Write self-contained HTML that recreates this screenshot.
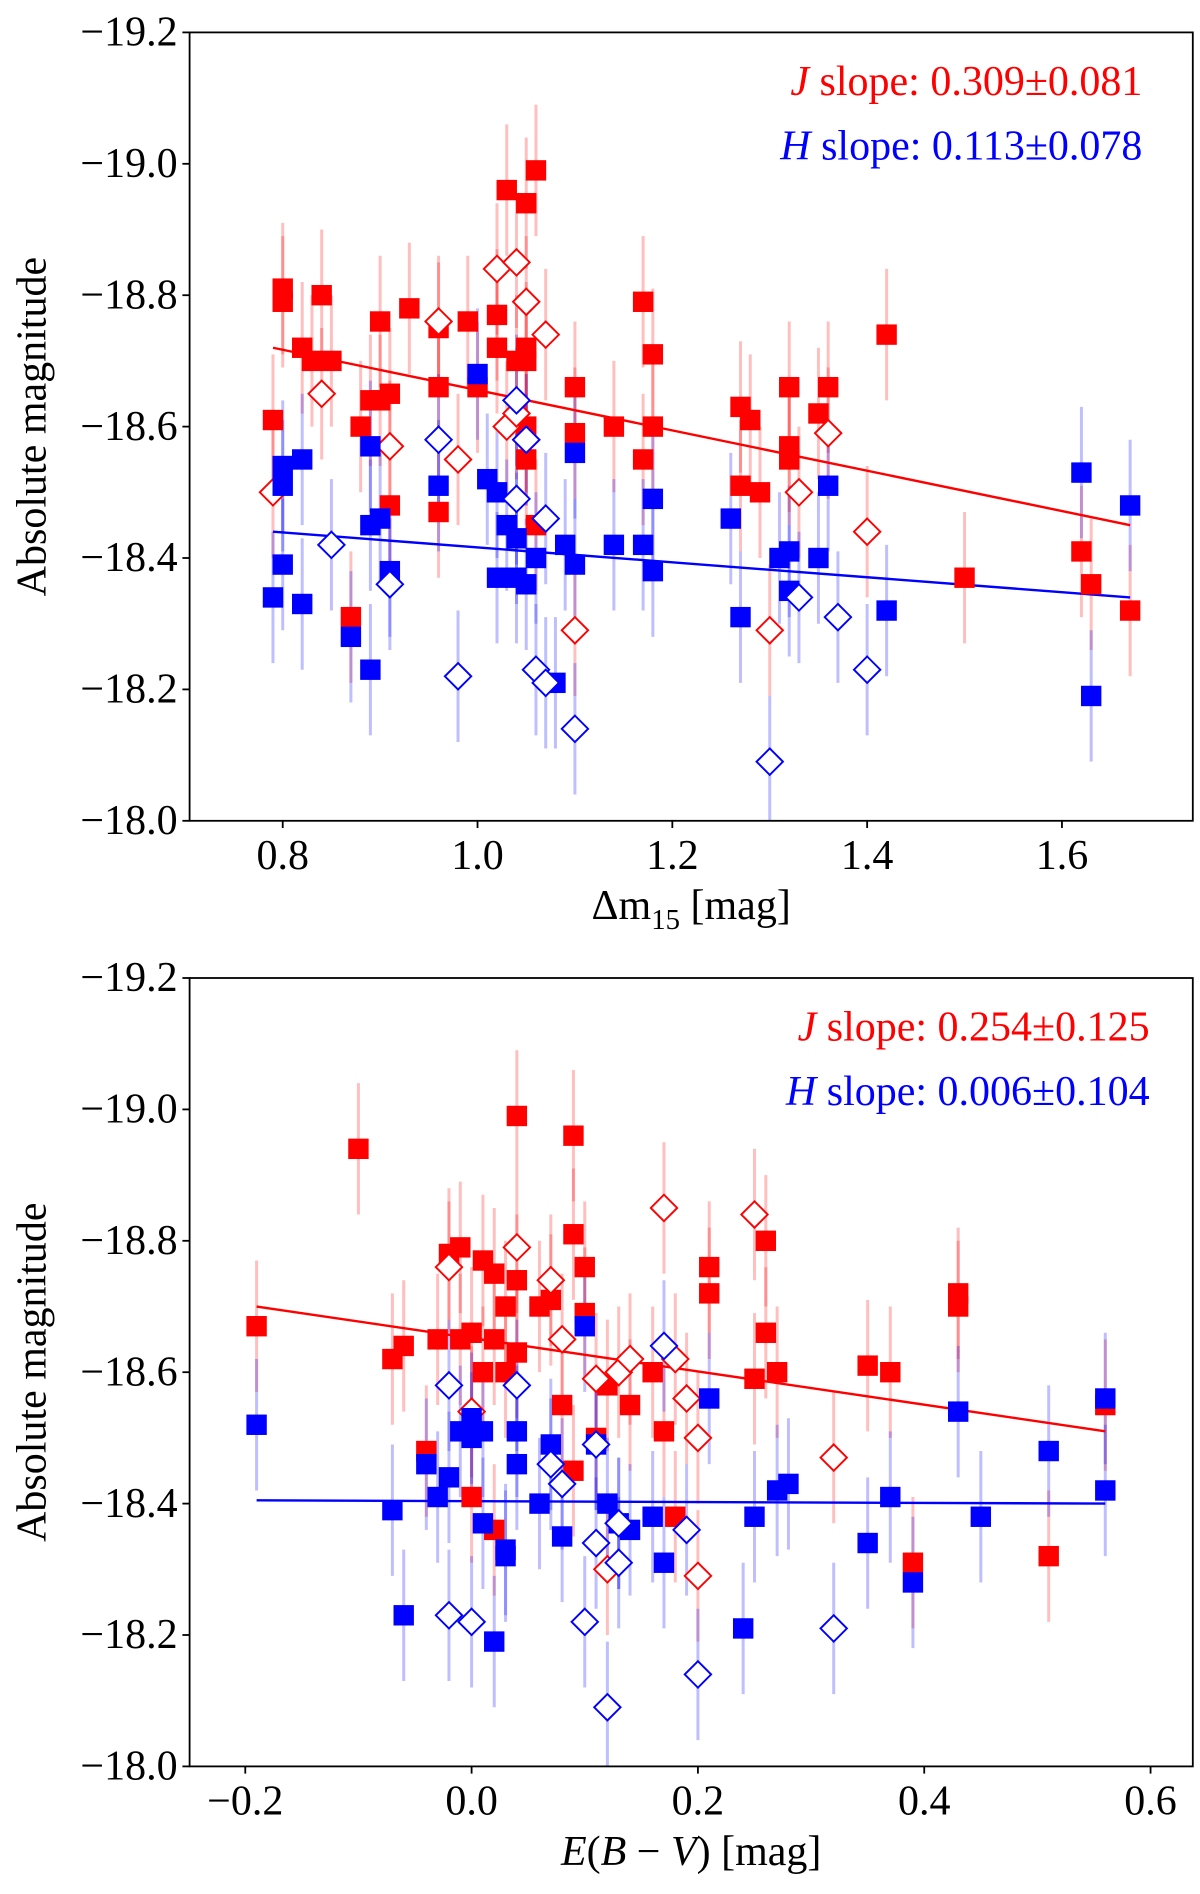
<!DOCTYPE html>
<html><head><meta charset="utf-8"><style>
html,body{margin:0;padding:0;background:#fff}
svg{display:block}
text{font-family:"Liberation Serif",serif}
</style></head><body>
<svg id="fig" width="1200" height="1894" viewBox="0 0 1000 1578.33" xmlns="http://www.w3.org/2000/svg"></svg>
<script>
// ---- Top panel data (Δm15) ----
const topJFilled = [[0.79,-18.61],[0.80,-18.81],[0.80,-18.79],[0.82,-18.72],[0.83,-18.70],[0.84,-18.80],[0.85,-18.70],[0.87,-18.31],[0.88,-18.60],[0.89,-18.64],[0.90,-18.76],[0.90,-18.64],[0.91,-18.65],[0.91,-18.48],[0.93,-18.78],[0.96,-18.75],[0.96,-18.66],[0.96,-18.47],[0.99,-18.76],[1.00,-18.66],[1.02,-18.77],[1.02,-18.72],[1.03,-18.96],[1.04,-18.70],[1.05,-18.94],[1.05,-18.60],[1.05,-18.55],[1.05,-18.70],[1.05,-18.72],[1.06,-18.99],[1.06,-18.45],[1.10,-18.66],[1.10,-18.59],[1.14,-18.60],[1.17,-18.79],[1.17,-18.55],[1.18,-18.60],[1.18,-18.71],[1.27,-18.63],[1.27,-18.51],[1.28,-18.61],[1.29,-18.50],[1.32,-18.57],[1.32,-18.66],[1.32,-18.55],[1.35,-18.62],[1.36,-18.66],[1.42,-18.74],[1.50,-18.37],[1.62,-18.41],[1.63,-18.36],[1.67,-18.32]];
const topJOpen = [[0.79,-18.50],[0.84,-18.65],[0.91,-18.57],[0.96,-18.76],[0.98,-18.55],[1.02,-18.84],[1.04,-18.85],[1.05,-18.79],[1.03,-18.60],[1.04,-18.62],[1.05,-18.58],[1.07,-18.74],[1.10,-18.29],[1.30,-18.29],[1.33,-18.50],[1.36,-18.59],[1.40,-18.44]];
const topHFilled = [[0.79,-18.34],[0.80,-18.39],[0.80,-18.54],[0.80,-18.51],[0.82,-18.55],[0.82,-18.33],[0.87,-18.28],[0.89,-18.23],[0.89,-18.57],[0.89,-18.45],[0.90,-18.46],[0.91,-18.38],[0.96,-18.51],[1.00,-18.68],[1.01,-18.52],[1.02,-18.37],[1.02,-18.50],[1.03,-18.45],[1.04,-18.43],[1.04,-18.37],[1.05,-18.36],[1.06,-18.40],[1.08,-18.21],[1.09,-18.42],[1.10,-18.56],[1.10,-18.39],[1.14,-18.42],[1.17,-18.42],[1.18,-18.38],[1.18,-18.49],[1.26,-18.46],[1.27,-18.31],[1.31,-18.40],[1.32,-18.35],[1.32,-18.41],[1.35,-18.40],[1.36,-18.51],[1.42,-18.32],[1.62,-18.53],[1.63,-18.19],[1.67,-18.48]];
const topHOpen = [[0.85,-18.42],[0.91,-18.36],[0.96,-18.58],[0.98,-18.22],[1.04,-18.64],[1.04,-18.49],[1.05,-18.58],[1.06,-18.23],[1.07,-18.21],[1.07,-18.46],[1.10,-18.14],[1.30,-18.09],[1.33,-18.34],[1.37,-18.31],[1.40,-18.23]];
const topJFit = [[0.79,-18.72],[1.67,-18.45]];
const topHFit = [[0.79,-18.44],[1.67,-18.34]];
const topXTicks = [0.8,1.0,1.2,1.4,1.6];
// ---- Bottom panel data (E(B-V)) ----
const botJFilled = [[-0.19,-18.67],[-0.10,-18.94],[-0.07,-18.62],[-0.06,-18.64],[-0.03,-18.65],[-0.02,-18.78],[-0.01,-18.79],[-0.01,-18.65],[0.00,-18.41],[0.00,-18.66],[0.01,-18.77],[0.01,-18.60],[0.02,-18.65],[0.02,-18.75],[0.03,-18.70],[0.03,-18.60],[0.04,-18.99],[0.04,-18.74],[0.04,-18.63],[0.06,-18.70],[0.07,-18.71],[0.08,-18.55],[0.09,-18.96],[0.09,-18.81],[0.09,-18.45],[0.10,-18.76],[0.10,-18.69],[0.11,-18.50],[0.12,-18.58],[0.14,-18.55],[0.16,-18.60],[0.17,-18.51],[0.18,-18.38],[0.21,-18.76],[0.21,-18.72],[0.25,-18.59],[0.26,-18.80],[0.26,-18.66],[0.27,-18.60],[0.35,-18.61],[0.37,-18.60],[0.39,-18.31],[0.43,-18.72],[0.43,-18.70],[0.51,-18.32],[0.56,-18.55],[0.02,-18.36],[-0.04,-18.48]];
const botJOpen = [[-0.02,-18.76],[0.04,-18.79],[0.00,-18.54],[0.07,-18.74],[0.08,-18.65],[0.11,-18.59],[0.12,-18.30],[0.13,-18.60],[0.14,-18.62],[0.17,-18.85],[0.18,-18.62],[0.19,-18.56],[0.20,-18.50],[0.20,-18.29],[0.25,-18.84],[0.32,-18.47]];
const botHFilled = [[-0.19,-18.52],[-0.07,-18.39],[-0.06,-18.23],[-0.04,-18.46],[-0.03,-18.41],[-0.02,-18.44],[-0.01,-18.51],[0.00,-18.53],[0.00,-18.50],[0.01,-18.37],[0.01,-18.51],[0.02,-18.19],[0.03,-18.33],[0.03,-18.32],[0.04,-18.51],[0.04,-18.46],[0.06,-18.40],[0.07,-18.49],[0.08,-18.35],[0.10,-18.67],[0.11,-18.49],[0.12,-18.40],[0.13,-18.37],[0.14,-18.36],[0.16,-18.38],[0.17,-18.31],[0.21,-18.56],[0.24,-18.21],[0.25,-18.38],[0.27,-18.42],[0.28,-18.43],[0.35,-18.34],[0.37,-18.41],[0.39,-18.28],[0.43,-18.54],[0.45,-18.38],[0.51,-18.48],[0.56,-18.42],[0.56,-18.56]];
const botHOpen = [[-0.02,-18.58],[-0.02,-18.23],[0.00,-18.22],[0.04,-18.58],[0.07,-18.46],[0.08,-18.43],[0.10,-18.22],[0.11,-18.34],[0.11,-18.49],[0.12,-18.09],[0.13,-18.31],[0.13,-18.37],[0.17,-18.64],[0.19,-18.36],[0.20,-18.14],[0.32,-18.21]];
const botJFit = [[-0.19,-18.70],[0.56,-18.51]];
const botHFit = [[-0.19,-18.405],[0.56,-18.40]];
const botXTicks = [-0.2,0.0,0.2,0.4,0.6];
const yTicks = [-19.2,-19.0,-18.8,-18.6,-18.4,-18.2,-18.0];
const magErr = 0.1;

const NS = "http://www.w3.org/2000/svg";
const svg = document.getElementById('fig');
function mk(tag, attrs, parent){const e=document.createElementNS(NS,tag);for(const k in attrs)e.setAttribute(k,attrs[k]);(parent||svg).appendChild(e);return e;}

function panel(o){
  const L=158,R=994,T=o.top,B=o.bottom;
  const xs=v=>o.x0px+(v-o.x0v)*o.xs;
  const ys=v=>T+(v-(-19.2))/1.2*(B-T);
  const g=mk('g',{});
  
  
  const cl='clip'+o.name;
  const cp=mk('clipPath',{id:cl},g); mk('rect',{x:L,y:T,width:R-L,height:B-T},cp);
  const pg=mk('g',{'clip-path':'url(#'+cl+')'},g);
  const series=[
    [o.jf,'#ff0000','sq'],[o.jo,'#ff0000','di'],[o.hf,'#0000ff','sq'],[o.ho,'#0000ff','di']];
  series.forEach(([d,c])=>d.forEach(p=>{
    const e=mk('line',{x1:xs(p[0]),x2:xs(p[0]),y1:ys(p[1]-magErr),y2:ys(p[1]+magErr),stroke:c,'stroke-opacity':0.25,'stroke-width':2.5},pg);
    
    
  }));
  [[o.jfit,'#ff0000','j-fit-line'],[o.hfit,'#0000ff','h-fit-line']].forEach(([f,c,n])=>{
    const l=mk('line',{x1:xs(f[0][0]),y1:ys(f[0][1]),x2:xs(f[1][0]),y2:ys(f[1][1]),stroke:c,'stroke-width':2},pg);
    
    
  });
  series.forEach(([d,c,t])=>d.forEach(p=>{
    const X=xs(p[0]),Y=ys(p[1]);let m;
    if(t==='sq'){m=mk('rect',{x:X-8.5,y:Y-8.5,width:17,height:17,fill:c},pg);}
    else{m=mk('polygon',{points:`${X},${Y-11} ${X+11},${Y} ${X},${Y+11} ${X-11},${Y}`,fill:'#fff',stroke:c,'stroke-width':1.6},pg);}
    
    
  }));
  const fr=mk('rect',{x:L,y:T,width:R-L,height:B-T,fill:'none',stroke:'#000','stroke-width':1.5},g);
  
  
  yTicks.forEach(v=>{
    const y=ys(v);
    mk('line',{x1:L-6,x2:L,y1:y,y2:y,stroke:'#000','stroke-width':1.5},g);
    const t=mk('text',{x:L-10,y:y+11,'font-size':35,'text-anchor':'end'},g);
    t.textContent='\u2212'+Math.abs(v).toFixed(1);
    
    
  });
  o.xt.forEach(v=>{
    const x=xs(v);
    mk('line',{x1:x,x2:x,y1:B,y2:B+6,stroke:'#000','stroke-width':1.5},g);
    const t=mk('text',{x:x,y:B+40,'font-size':35,'text-anchor':'middle'},g);
    t.textContent=(v<0?'\u2212':'')+Math.abs(v).toFixed(1);
    
    
  });
  const yl=mk('text',{x:0,y:0,'font-size':35,'text-anchor':'middle',transform:`translate(38,${(T+B)/2}) rotate(-90)`},g);
  yl.textContent='Absolute magnitude';
  
  
  const xl=mk('text',{x:(L+R)/2,y:B+82,'font-size':35,'text-anchor':'middle'},g);
  xl.innerHTML=o.xlabel;
  
  
  [[o.jtxt,'#ff0000',T+52,'J'],[o.htxt,'#0000ff',T+106,'H']].forEach(([s,c,y,b])=>{
    const t=mk('text',{x:o.legX,y:y,'font-size':35,'text-anchor':'end',fill:c},g);
    t.innerHTML=`<tspan font-style="italic">${b}</tspan> slope: ${s}`;
    
    
  });
}
panel({name:'dm15-panel',top:27,bottom:684,x0v:0.8,x0px:235.6,xs:811.7,jf:topJFilled,jo:topJOpen,hf:topHFilled,ho:topHOpen,jfit:topJFit,hfit:topHFit,xt:topXTicks,
  xlabel:'Δm<tspan font-size="24" dy="8">15</tspan><tspan dy="-8"> [mag]</tspan>',jtxt:'0.309±0.081',htxt:'0.113±0.078',legX:952});
panel({name:'ebv-panel',top:815,bottom:1472,x0v:-0.2,x0px:204.4,xs:943,jf:botJFilled,jo:botJOpen,hf:botHFilled,ho:botHOpen,jfit:botJFit,hfit:botHFit,xt:botXTicks,
  xlabel:'<tspan font-style="italic">E</tspan>(<tspan font-style="italic">B</tspan> − <tspan font-style="italic">V</tspan>) [mag]',jtxt:'0.254±0.125',htxt:'0.006±0.104',legX:958});
</script>
</body></html>
